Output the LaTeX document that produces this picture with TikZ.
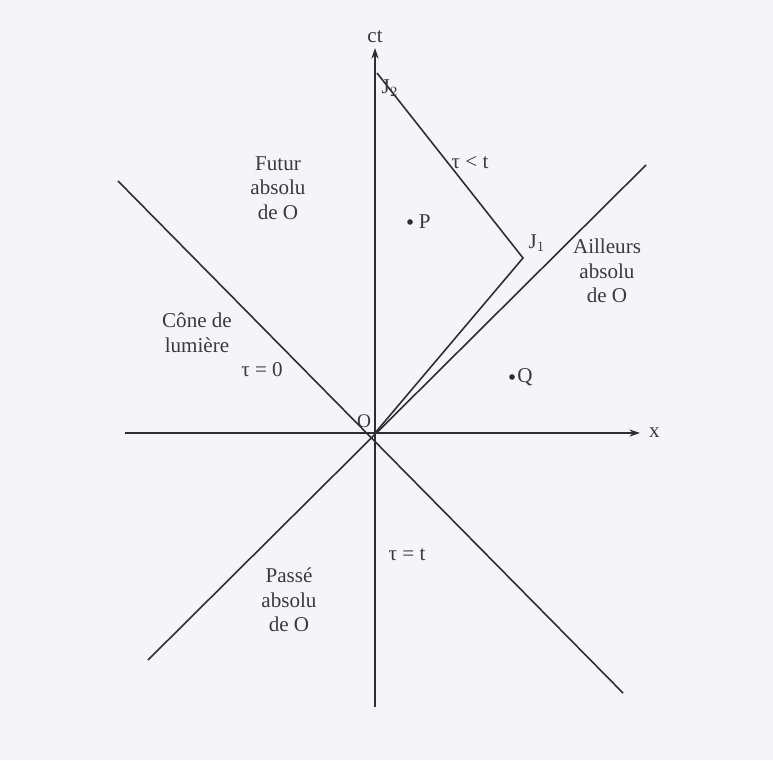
\documentclass[tikz,border=0pt]{standalone}
\usepackage{fontspec}
\setmainfont{Liberation Serif}
\usetikzlibrary{arrows.meta,positioning,calc}
\usepackage{xcolor}
\definecolor{stPaper}{HTML}{F5F4F8}
\definecolor{stInk}{HTML}{2E2E30}
\definecolor{stText}{HTML}{3A3A3C}
\tikzset{
  axe/.style={-{Stealth[length=6pt,width=4pt]}, line width=0.9pt, draw=stInk},
  ligne/.style={line width=0.9pt, draw=stInk},
  lbl/.style={font=\fontsize{12}{14}\selectfont, text=stText, align=center, inner sep=1pt},
  pt/.style={circle, fill=stInk, inner sep=0pt, minimum size=3.2pt},
}
\begin{document}
\begin{tikzpicture}[x=0.02cm, y=0.02cm]
        \useasboundingbox[fill=stPaper] (-375,433) rectangle (398,-327);
        % origine et axes
        \coordinate (O) at (0,0);
        \coordinate (ctb) at (0,-274);
        \coordinate (ctt) at (0,385);
        \coordinate (xg) at (-250,0);
        \coordinate (xd) at (265,0);
        \draw[axe] (ctb) -- (ctt);
        \draw[axe] (xg) -- (xd);
        \node[lbl, above=2pt of ctt] (ct) {ct};
        \node[lbl, right=4pt of xd] (xl) {x};
        \node[lbl, font=\fontsize{11}{13}\selectfont] (Ol) at (-11,12) {O};
        % cone de lumiere
        \coordinate (c1a) at (-257,252);
        \coordinate (c1b) at (248,-260);
        \coordinate (c2a) at (-227,-227);
        \coordinate (c2b) at (271,268);
        \draw[ligne] (c1a) -- (c1b);
        \draw[ligne] (c2a) -- (c2b);
        % voyageur
        \coordinate (J1) at (148,175);
        \coordinate (J2) at (2,360);
        \draw[ligne] (O) -- (J1) -- (J2);
        \node[lbl] (J2l) at (15,345) {J$_2$};
        \node[lbl] (J1l) at (162,190) {J$_1$};
        \node[lbl] (tinf) at (95,270) {τ < t};
        % evenements
        \node[pt] (P) at (35,211) {};
        \node[lbl, right=2pt of P] (Pl) {P};
        \node[pt] (Q) at (137,56) {};
        \node[lbl, right=0pt of Q] (Ql) {Q};
        % regions
        \node[lbl] (fut) at (-97,245) {Futur\\absolu\\de O};
        \node[lbl] (cone) at (-178,100) {Cône de\\lumière};
        \node[lbl] (t0) at (-113,63) {τ = 0};
        \node[lbl] (ail) at (232,162) {Ailleurs\\absolu\\de O};
        \node[lbl] (pas) at (-86,-167) {Passé\\absolu\\de O};
        \node[lbl] (tt) at (32,-122) {τ = t};
    \end{tikzpicture}
\end{document}
